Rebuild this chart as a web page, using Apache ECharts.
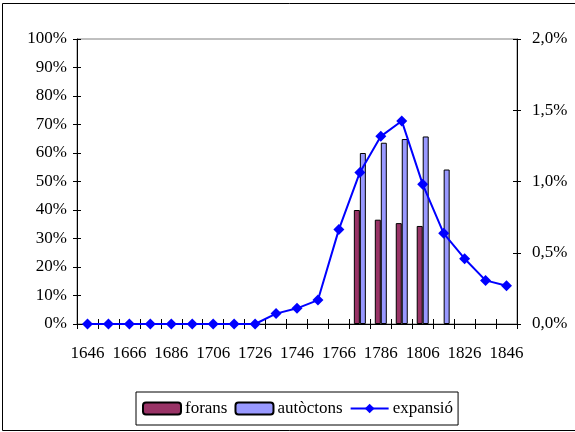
<!DOCTYPE html>
<html>
<head>
<meta charset="utf-8">
<script src="https://cdn.jsdelivr.net/npm/echarts@6/dist/echarts.min.js"></script>
<style>
  html, body { margin: 0; padding: 0; background: #fff; }
  #chart { width: 575px; height: 432px; }
</style>
</head>
<body>
<div id="chart"></div>
<script>
// anys (cada dècada)
const years = ['1646', '1656', '1666', '1676', '1686', '1696', '1706', '1716', '1726', '1736', '1746',
  '1756', '1766', '1776', '1786', '1796', '1806', '1816', '1826', '1836', '1846'];
// % forans i autòctons (eix esquerre)
const forans = [null, null, null, null, null, null, null, null, null, null, null,
  null, null, 40, 36.6, 35.4, 34.4, null, null, null, null];
const autoctons = [null, null, null, null, null, null, null, null, null, null, null,
  null, null, 60, 63.6, 64.9, 65.8, 54.2, null, null, null];
// expansió (eix dret, %)
const expansio = [0, 0, 0, 0, 0, 0, 0, 0, 0, 0.073, 0.11,
  0.168, 0.664, 1.064, 1.317, 1.425, 0.98, 0.636, 0.458, 0.306, 0.269];

const font = 'Liberation Serif';
const fs = 17;
const chart = echarts.init(document.getElementById('chart'));

chart.setOption({
  animation: false,
  textStyle: { fontFamily: font, color: '#000' },
  grid: {
    left: 77, right: 58, top: 39, bottom: 108,
    show: true, borderColor: '#808080', borderWidth: 1
  },
  xAxis: [
    {
      type: 'category',
      data: years,
      boundaryGap: true,
      axisLine: { lineStyle: { color: '#000', width: 1 } },
      axisTick: { show: true, length: 5, interval: 0, lineStyle: { color: '#000' } },
      axisLabel: { interval: 1, margin: 21, fontSize: fs, fontFamily: font, color: '#000' }
    },
    {
      // marques internes (creu)
      type: 'category',
      data: years,
      position: 'bottom',
      boundaryGap: true,
      axisLine: { show: false },
      axisTick: { show: true, inside: true, length: 5, interval: 0, lineStyle: { color: '#000' } },
      axisLabel: { show: false }
    }
  ],
  yAxis: [
    {
      type: 'value', min: 0, max: 100, interval: 10, position: 'left',
      splitLine: { show: false },
      axisLine: { show: true, lineStyle: { color: '#000' } },
      axisTick: { show: true, length: 4, lineStyle: { color: '#000' } },
      axisLabel: { formatter: v => v + '%', margin: 10, fontSize: fs, fontFamily: font, color: '#000' }
    },
    {
      type: 'value', min: 0, max: 2, interval: 0.5, position: 'right',
      splitLine: { show: false },
      axisLine: { show: true, lineStyle: { color: '#000' } },
      axisTick: { show: true, length: 4, lineStyle: { color: '#000' } },
      axisLabel: {
        formatter: v => v.toFixed(1).replace('.', ',') + '%',
        margin: 15, fontSize: fs, fontFamily: font, color: '#000'
      }
    },
    {
      type: 'value', min: 0, max: 100, interval: 10, position: 'left',
      splitLine: { show: false },
      axisLine: { show: false },
      axisTick: { show: true, inside: true, length: 4, lineStyle: { color: '#000' } },
      axisLabel: { show: false }
    },
    {
      type: 'value', min: 0, max: 2, interval: 0.5, position: 'right',
      splitLine: { show: false },
      axisLine: { show: false },
      axisTick: { show: true, inside: true, length: 4, lineStyle: { color: '#000' } },
      axisLabel: { show: false }
    }
  ],
  legend: {
    left: 136, top: 392,
    padding: [8, 5, 8, 6],
    itemGap: 7,
    itemWidth: 38, itemHeight: 12,
    borderColor: '#000', borderWidth: 1,
    textStyle: { fontSize: fs, fontFamily: font, color: '#000', padding: [0, 0, 0, -1] },
    data: ['forans', 'autòctons', 'expansió']
  },
  graphic: [
    {
      type: 'rect',
      shape: { x: 2.5, y: 3.5, width: 600, height: 427 },
      style: { fill: 'none', stroke: '#000', lineWidth: 1 },
      silent: true
    }
  ],
  series: [
    {
      name: 'forans', type: 'bar', yAxisIndex: 0, data: forans,
      barWidth: 6, barGap: '0%',
      itemStyle: { color: '#993366', borderColor: '#000', borderWidth: 1 }
    },
    {
      name: 'autòctons', type: 'bar', yAxisIndex: 0, data: autoctons,
      barWidth: 6, barGap: '0%',
      itemStyle: { color: '#9999FF', borderColor: '#000', borderWidth: 1 }
    },
    {
      name: 'expansió', type: 'line', yAxisIndex: 1, data: expansio,
      symbol: 'diamond', symbolSize: 11, z: 5,
      lineStyle: { color: '#0000FF', width: 2 },
      itemStyle: { color: '#0000FF' }
    }
  ]
});
</script>
</body>
</html>
